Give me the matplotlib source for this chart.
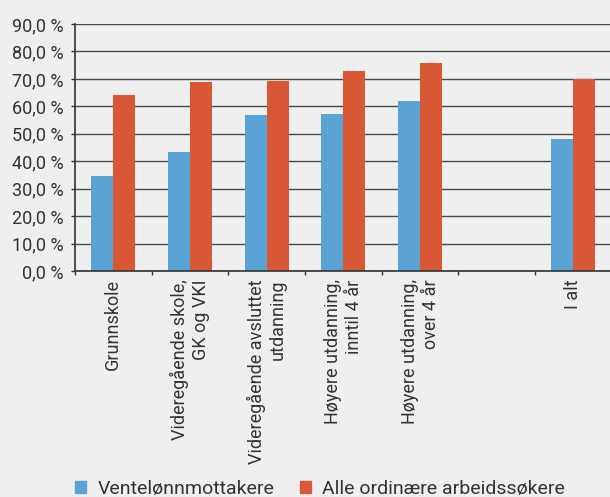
import matplotlib
matplotlib.use("Agg")
import matplotlib.pyplot as plt
from matplotlib.patches import Patch
from matplotlib.transforms import ScaledTranslation
import numpy as np

categories = ["Grunnskole",
              "Videregående skole,\nGK og VKI",
              "Videregående avsluttet\nutdanning",
              "Høyere utdanning,\ninntil 4 år",
              "Høyere utdanning,\nover 4 år",
              "",
              "I alt"]
ventelonn = [34.6, 43.5, 57.0, 57.3, 62.0, np.nan, 48.2]
alle_ord = [64.2, 69.0, 69.4, 72.9, 75.8, np.nan, 70.0]
yticks = [0, 10, 20, 30, 40, 50, 60, 70, 80, 90]
ytick_labels = ["0,0 %", "10,0 %", "20,0 %", "30,0 %", "40,0 %", "50,0 %",
                "60,0 %", "70,0 %", "80,0 %", "90,0 %"]

blue = "#5ba3d4"
orange = "#d85836"
bg = "#efefef"
txt = "#333333"

plt.rcParams["font.family"] = ["Roboto", "DejaVu Sans"]

fig = plt.figure(figsize=(6.1, 4.97), dpi=100, facecolor=bg)
ax = fig.add_axes([0.123, 0.4547, 0.88, 0.497], facecolor=bg)

x = np.arange(len(categories))
w = 0.287
ax.bar(x - w / 2, ventelonn, w, color=blue, zorder=3)
ax.bar(x + w / 2, alle_ord, w, color=orange, zorder=3)

ax.set_ylim(0, 90)
ax.set_xlim(-0.5, len(categories) - 0.5)
ax.set_yticks(yticks)
ax.set_yticklabels(ytick_labels, fontsize=13, color=txt)
ax.yaxis.grid(True, color="#4a4a4a", linewidth=1.0, zorder=0)

ax.set_xticks(x)
ax.set_xticklabels(categories, rotation=90, fontsize=13, color=txt,
                   ha="center", va="top", multialignment="right")
shift = ScaledTranslation(-0.07, 0, fig.dpi_scale_trans)
for lbl in ax.get_xticklabels():
    lbl.set_transform(lbl.get_transform() + shift)
ax.tick_params(axis="x", which="major", length=0, pad=6)
ax.set_xticks(np.arange(-0.5, len(categories), 1.0), minor=True)
ax.tick_params(axis="x", which="minor", length=3, color="#333333", width=1)
ax.tick_params(axis="y", length=3, color="#333333", width=1, pad=5)

for s in ["top", "right"]:
    ax.spines[s].set_visible(False)
for s in ["left", "bottom"]:
    ax.spines[s].set_color("#333333")
    ax.spines[s].set_linewidth(1.2)
    ax.spines[s].set_zorder(4)

handles = [Patch(color=blue, label="Ventelønnmottakere"),
           Patch(color=orange, label="Alle ordinære arbeidssøkere")]
fig.legend(handles=handles, loc="lower left", bbox_to_anchor=(0.095, -0.037),
           ncol=2, frameon=False, fontsize=14, handlelength=0.55,
           handleheight=0.55, columnspacing=1.3, handletextpad=0.6,
           labelcolor=txt)

fig.savefig("out.png", dpi=100, facecolor=bg)
